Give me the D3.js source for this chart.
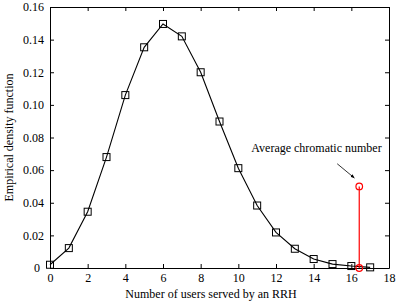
<!DOCTYPE html>
<html>
<head>
<meta charset="utf-8">
<script src="https://cdn.jsdelivr.net/npm/d3@7"></script>
<style>
  body { margin: 0; background: #fff; }
  text { font-family: "Liberation Serif", "Times New Roman", serif; }
</style>
</head>
<body>
<div id="chart"></div>
<script>
// Number of users served by an RRH
const users = [0, 1, 2, 3, 4, 5, 6, 7, 8, 9, 10, 11, 12, 13, 14, 15, 16, 17];
// Empirical density
const density = [0.002, 0.0122, 0.0345, 0.068, 0.106, 0.1353, 0.1496, 0.142, 0.12, 0.0898,
    0.0612, 0.0383, 0.0218, 0.0118, 0.0055, 0.0024, 0.0012, 0.0004];
const xTicks = [0, 2, 4, 6, 8, 10, 12, 14, 16, 18];
const yTicks = [0, 0.02, 0.04, 0.06, 0.08, 0.10, 0.12, 0.14, 0.16];

// Average chromatic number stem
const avgChromatic = 16.42;
const avgStemHeight = 0.05;
const annotationText = 'Average chromatic number';
const annotationAt = [14.15, 0.0714];
const arrowFrom = [15.25, 0.0639];
const arrowTo = [16.17, 0.0551];

const width = 399, height = 302;
const margin = { top: 7, right: 10, bottom: 34, left: 50 };

const svg = d3.select('#chart').append('svg')
    .attr('width', width)
    .attr('height', height);

const x = d3.scaleLinear().domain([0, 18]).range([margin.left, width - margin.right]);
const y = d3.scaleLinear().domain([0, 0.16]).range([height - margin.bottom, margin.top]);

const fmtY = d => d === 0 ? '0' : d3.format('.2f')(d);

// Axes, ticks pointing inward
const xAxis = svg.append('g')
    .attr('transform', `translate(0,${y(0)})`)
    .call(d3.axisBottom(x).tickValues(xTicks).tickSize(-4).tickPadding(5).tickSizeOuter(0));
const yAxis = svg.append('g')
    .attr('transform', `translate(${x(0)},0)`)
    .call(d3.axisLeft(y).tickValues(yTicks).tickFormat(fmtY).tickSize(-4).tickPadding(6).tickSizeOuter(0));
svg.append('g')
    .attr('transform', `translate(0,${y(0.16)})`)
    .call(d3.axisTop(x).tickValues(xTicks).tickFormat('').tickSize(-4).tickSizeOuter(0));
svg.append('g')
    .attr('transform', `translate(${x(18)},0)`)
    .call(d3.axisRight(y).tickValues(yTicks).tickFormat('').tickSize(-4).tickSizeOuter(0));

svg.selectAll('.domain').attr('stroke', '#000');
svg.selectAll('.tick line').attr('stroke', '#000');
svg.selectAll('.tick text')
    .attr('font-family', '"Liberation Serif", "Times New Roman", serif')
    .attr('font-size', 12)
    .attr('fill', '#000');
// zero label on y sits a little left in the original
yAxis.selectAll('.tick text').filter(d => d === 0).attr('dx', -4);

// Polyline through the points
const line = d3.line()
    .x((d, i) => x(users[i]))
    .y(d => y(d));

svg.append('path')
    .datum(density)
    .attr('d', line)
    .attr('fill', 'none')
    .attr('stroke', '#000')
    .attr('stroke-width', 1.1);

// Square markers
const sq = 7;
svg.selectAll('.marker')
    .data(density)
    .enter().append('rect')
    .attr('class', 'marker')
    .attr('x', (d, i) => x(users[i]) - sq / 2)
    .attr('y', d => y(d) - sq / 2)
    .attr('width', sq)
    .attr('height', sq)
    .attr('fill', 'none')
    .attr('stroke', '#000')
    .attr('stroke-width', 1);

// Red stem for the average chromatic number
svg.append('line')
    .attr('x1', x(avgChromatic))
    .attr('x2', x(avgChromatic))
    .attr('y1', y(0))
    .attr('y2', y(avgStemHeight))
    .attr('stroke', '#ff0000')
    .attr('stroke-width', 1.2);
svg.selectAll('.stem-end')
    .data([0, avgStemHeight])
    .enter().append('circle')
    .attr('class', 'stem-end')
    .attr('cx', x(avgChromatic))
    .attr('cy', d => y(d))
    .attr('r', 3.3)
    .attr('fill', 'none')
    .attr('stroke', '#ff0000')
    .attr('stroke-width', 1.2);

// Annotation arrow
svg.append('defs').append('marker')
    .attr('id', 'arrow')
    .attr('viewBox', '0 0 10 10')
    .attr('refX', 10)
    .attr('refY', 5)
    .attr('markerWidth', 5)
    .attr('markerHeight', 5)
    .attr('orient', 'auto')
    .append('path')
    .attr('d', 'M0,1 L10,5 L0,9 z')
    .attr('fill', '#000');

svg.append('line')
    .attr('x1', x(arrowFrom[0]))
    .attr('y1', y(arrowFrom[1]))
    .attr('x2', x(arrowTo[0]))
    .attr('y2', y(arrowTo[1]))
    .attr('stroke', '#000')
    .attr('stroke-width', 0.8)
    .attr('marker-end', 'url(#arrow)');

svg.append('text')
    .attr('x', x(annotationAt[0]))
    .attr('y', y(annotationAt[1]))
    .attr('text-anchor', 'middle')
    .attr('font-size', 12)
    .text(annotationText);

// Axis titles
svg.append('text')
    .attr('x', 211)
    .attr('y', 298)
    .attr('text-anchor', 'middle')
    .attr('font-size', 12)
    .text('Number of users served by an RRH');

svg.append('text')
    .attr('transform', `translate(13,${(y(0) + y(0.16)) / 2}) rotate(-90)`)
    .attr('text-anchor', 'middle')
    .attr('font-size', 12)
    .text('Empirical density function');
</script>
</body>
</html>
